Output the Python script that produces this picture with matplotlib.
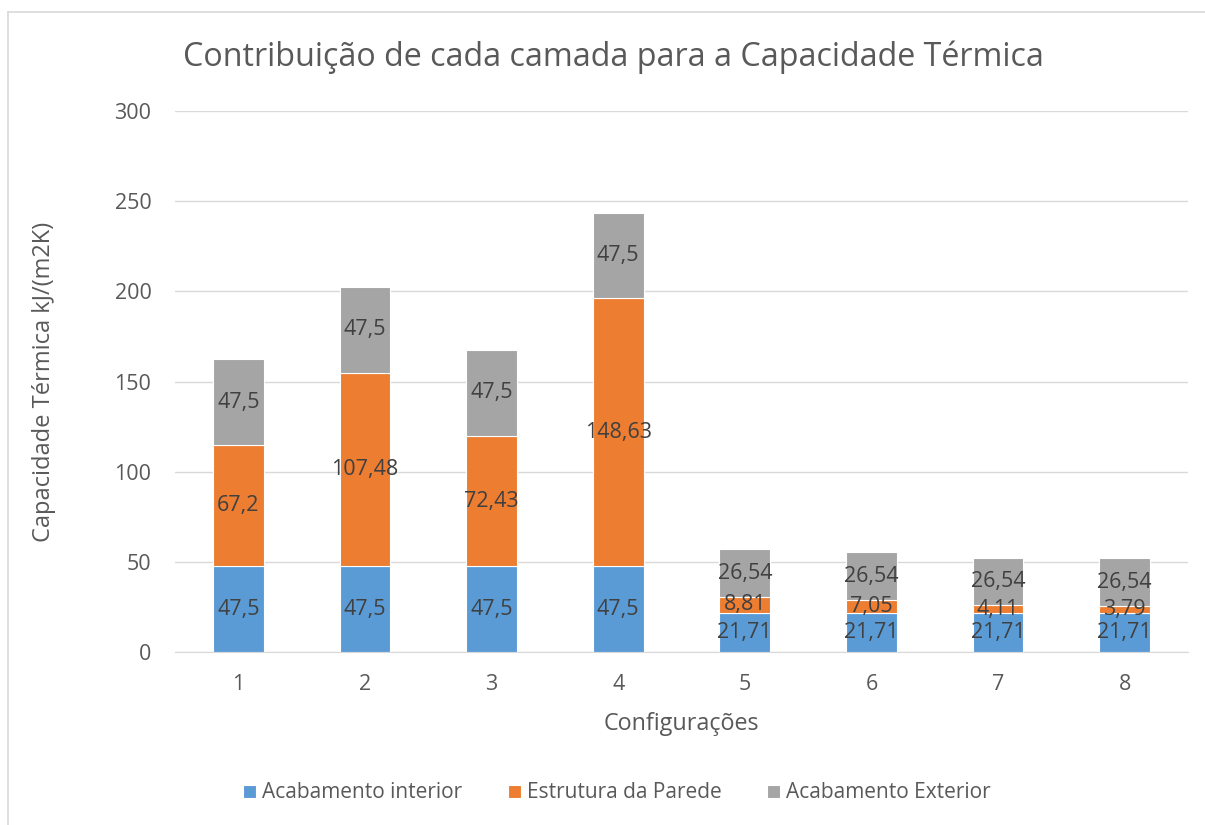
import numpy as np
import matplotlib.pyplot as plt
from matplotlib.lines import Line2D

# dados
configs = ['1', '2', '3', '4', '5', '6', '7', '8']
interior = [47.5, 47.5, 47.5, 47.5, 21.71, 21.71, 21.71, 21.71]
estrutura = [67.2, 107.48, 72.43, 148.63, 8.81, 7.05, 4.11, 3.79]
exterior = [47.5, 47.5, 47.5, 47.5, 26.54, 26.54, 26.54, 26.54]
series_names = ['Acabamento interior', 'Estrutura da Parede', 'Acabamento Exterior']
cores = ['#5B9BD5', '#ED7D31', '#A5A5A5']

plt.rcParams['font.family'] = ['Open Sans', 'DejaVu Sans']

W, H = 1205, 825
fig = plt.figure(figsize=(W / 100, H / 100), dpi=100)
ax = fig.add_axes([175 / W, 1 - 652 / H, (1188 - 175) / W, (652 - 111) / H])

x = np.arange(len(configs))
largura = 0.40
base = np.zeros(len(configs))
for vals, nome, cor in zip([interior, estrutura, exterior], series_names, cores):
    barras = ax.bar(x, vals, largura, bottom=base, color=cor, label=nome,
                    edgecolor='white', linewidth=0.8, zorder=3)
    rotulos = [str(v).replace('.', ',') for v in vals]
    ax.bar_label(barras, labels=rotulos, label_type='center', fontsize=15.5,
                 color='#404040', zorder=4)
    base += np.array(vals)

ax.set_xlim(-0.5, len(configs) - 0.5)
ax.set_ylim(0, 300)
ax.set_yticks(np.arange(0, 301, 50))
ax.set_xticks(x)
ax.set_xticklabels(configs)
ax.yaxis.grid(True, color='#D9D9D9', linewidth=1, zorder=0)
for s in ['top', 'right', 'left']:
    ax.spines[s].set_visible(False)
ax.spines['bottom'].set_color('#D9D9D9')
ax.tick_params(axis='both', length=0, labelsize=15.5, labelcolor='#595959')
ax.tick_params(axis='x', pad=16)
ax.tick_params(axis='y', pad=17)

ax.set_xlabel('Configurações', fontsize=16.8, color='#595959', labelpad=12)
ax.set_ylabel('Capacidade Térmica kJ/(m2K)', fontsize=17, color='#595959', labelpad=42)
fig.text(613 / W, 1 - 57 / H, 'Contribuição de cada camada para a Capacidade Térmica',
         ha='center', va='center', fontsize=23.2, color='#595959')

ax.legend(loc='center', bbox_to_anchor=(617 / W, 1 - 793 / H),
          bbox_transform=fig.transFigure, ncol=3, frameon=False, fontsize=15,
          labelcolor='#595959', handlelength=0.6, handleheight=0.6,
          handletextpad=0.3, columnspacing=2.2)

# borda do gráfico (à esquerda e no topo)
fig.add_artist(Line2D([8 / W, 8 / W], [0, 1 - 12 / H], transform=fig.transFigure,
                      color='#D9D9D9', linewidth=1.2))
fig.add_artist(Line2D([8 / W, 1], [1 - 12 / H, 1 - 12 / H], transform=fig.transFigure,
                      color='#D9D9D9', linewidth=1.2))

fig.savefig('out.png', dpi=100)
